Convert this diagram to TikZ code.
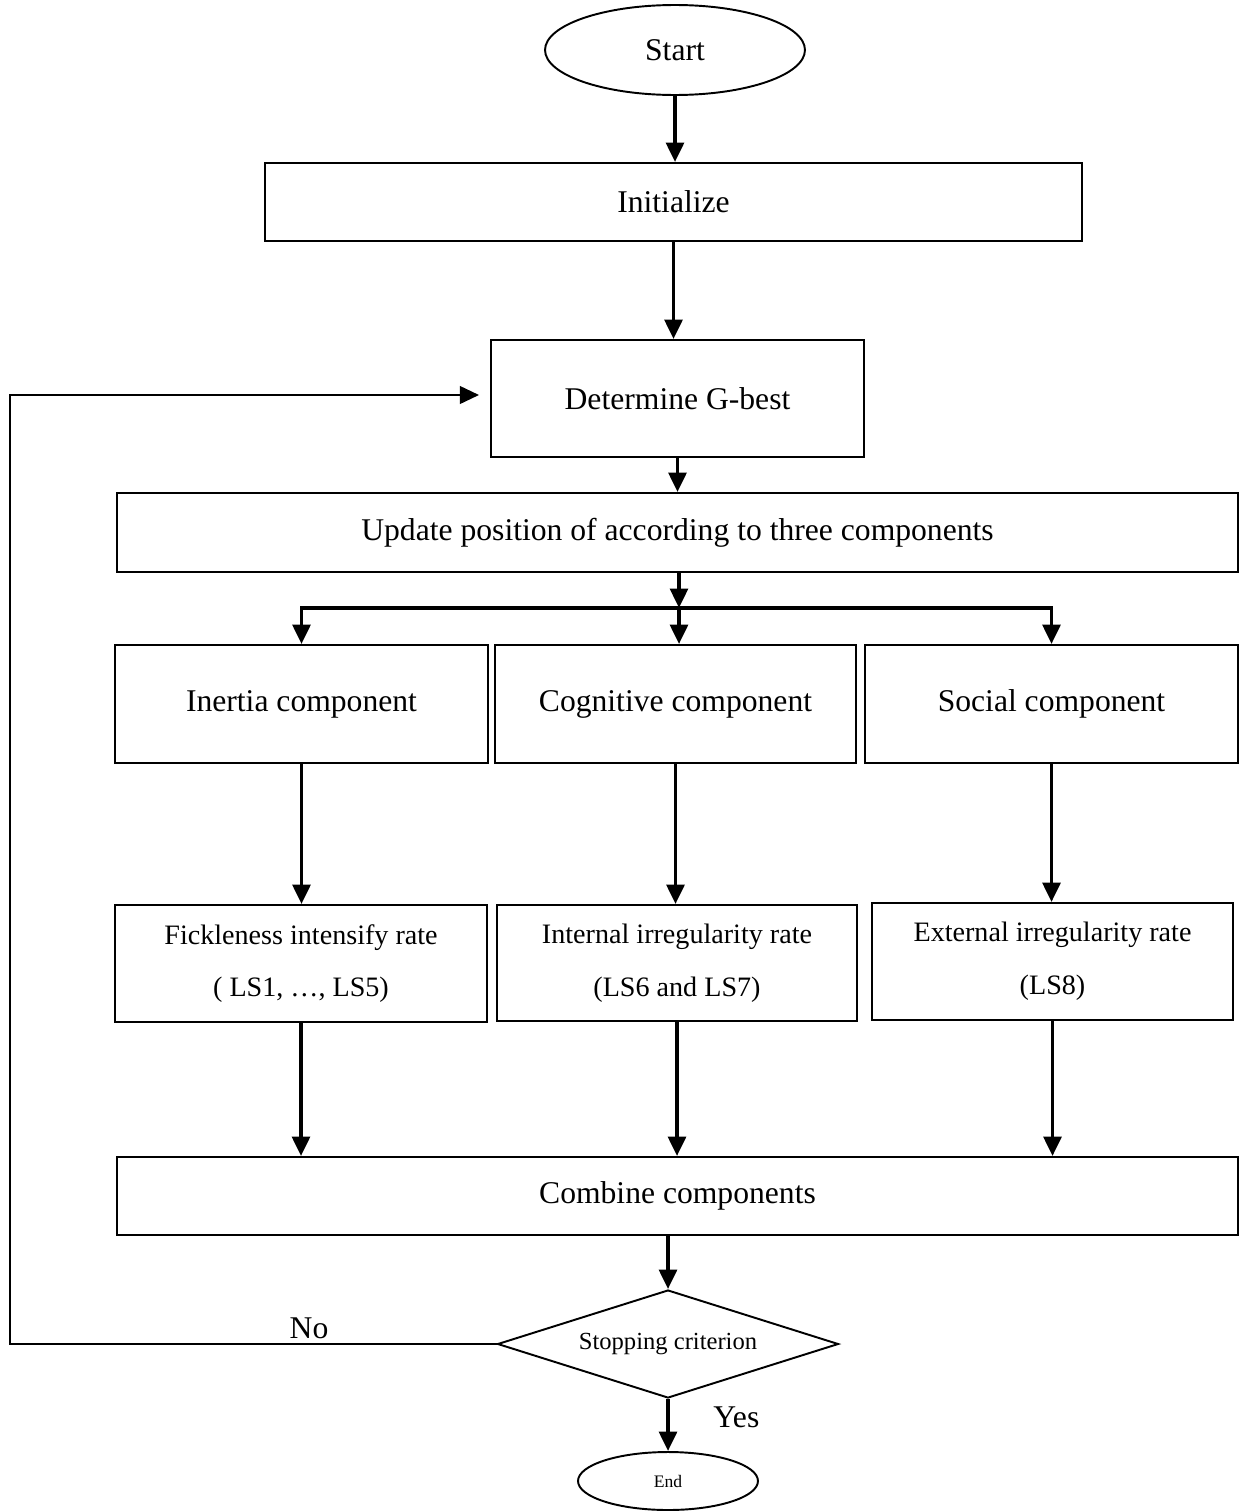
\documentclass[tikz,border=0pt]{standalone}
\usepackage{fontspec}
\setmainfont{Liberation Serif}
\usetikzlibrary{shapes.geometric,arrows.meta}

\begin{document}
\begin{tikzpicture}[x=0.02cm,y=-0.02cm,
    box/.style={draw, line width=1.1pt, inner sep=0pt, align=center, font=\fontsize{18}{22}\selectfont},
    ratebox/.style={box, font=\fontsize{16}{30}\selectfont},
    terminal/.style={box, ellipse},
    decision/.style={box, diamond, font=\fontsize{14}{16}\selectfont},
    flow/.style={-{Triangle[length=11pt,width=10pt]}, line width=2.2pt},
    back/.style={-{Triangle[length=11pt,width=10pt]}, line width=1.6pt},
    lbl/.style={font=\fontsize{18}{22}\selectfont}]

    \useasboundingbox (0,0) rectangle (1240,1511);

    % Start and initialisation
    \node[terminal, minimum width=5.2cm, minimum height=1.8cm] (start) at (675,50) {Start};
    \node[box, minimum width=16.34cm, minimum height=1.56cm] (init) at (673.5,202) {Initialize};
    \node[box, minimum width=7.46cm, minimum height=2.34cm] (gbest) at (677.5,398.5) {Determine G-best};
    \node[box, minimum width=22.42cm, minimum height=1.58cm] (update) at (677.5,532.5) {Update position of according to three components};

    % The three components
    \node[box, minimum width=7.46cm, minimum height=2.36cm] (inertia) at (301.5,704) {Inertia component};
    \node[box, minimum width=7.22cm, minimum height=2.36cm] (cog) at (675.5,704) {Cognitive component};
    \node[box, minimum width=7.46cm, minimum height=2.36cm] (social) at (1051.5,704) {Social component};

    % Rates
    \node[ratebox, minimum width=7.44cm, minimum height=2.34cm] (fickle) at (301,963.5) {Fickleness intensify rate\\( LS1, \dots, LS5)};
    \node[ratebox, minimum width=7.2cm, minimum height=2.32cm] (internal) at (677,963) {Internal irregularity rate\\(LS6 and LS7)};
    \node[ratebox, minimum width=7.22cm, minimum height=2.34cm] (external) at (1052.5,961.5) {External irregularity rate\\(LS8)};

    % Combination, stopping test and end
    \node[box, minimum width=22.42cm, minimum height=1.56cm] (combine) at (677.5,1196) {Combine components};
    \node[decision, shape aspect=3.16, minimum width=6.82cm, minimum height=2.16cm] (stop) at (668,1344) {Stopping criterion};
    \node[terminal, minimum width=3.6cm, minimum height=1.16cm, font=\fontsize{10}{12}\selectfont] (finish) at (668,1481) {End};

    \coordinate (split) at (679,608);
    \coordinate (loop) at (10,1344);

    \draw[flow] (start.south) -- (start.south |- init.north);
    \draw[flow] (init.south) -- (init.south |- gbest.north);
    \draw[flow] (gbest.south) -- (gbest.south |- update.north);
    \draw[flow] (update.south -| split) -- (split);
    \draw[flow] (split) -- (split |- cog.north);
    \draw[flow] (split) -| (inertia.north);
    \draw[flow] (split) -| (social.north);

    \draw[flow] (inertia.south) -- (inertia.south |- fickle.north);
    \draw[flow] (cog.south) -- (cog.south |- internal.north);
    \draw[flow] (social.south) -- (social.south |- external.north);

    \draw[flow] (fickle.south) -- (fickle.south |- combine.north);
    \draw[flow] (internal.south) -- (internal.south |- combine.north);
    \draw[flow] (external.south) -- (external.south |- combine.north);

    \draw[flow] (stop.north |- combine.south) -- (stop.north);
    \draw[flow] (stop.south) -- (finish.north) node[lbl, pos=0.35, right=0.75cm] (yes) {Yes};

    % No: back to G-best
    \draw[back] (stop.west) -- (loop) |- ([xshift=-0.22cm,yshift=0.07cm]gbest.west);
    \node[lbl] (no) at (309,1328) {No};

\end{tikzpicture}
\end{document}
